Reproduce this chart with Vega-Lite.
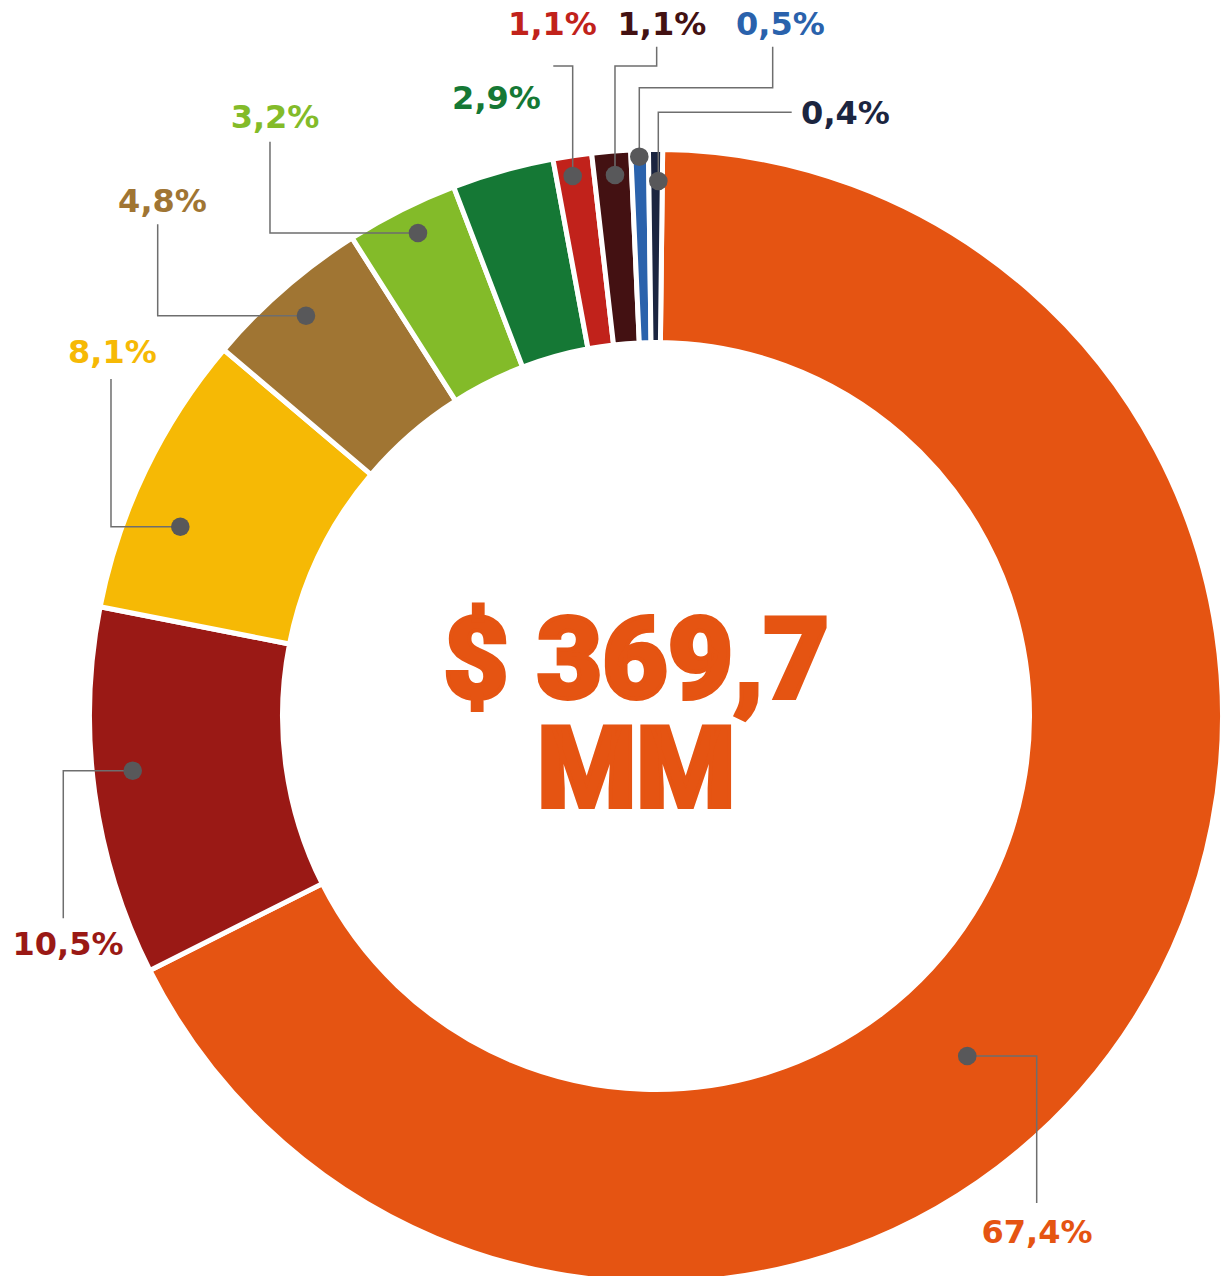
{
  "$schema": "https://vega.github.io/schema/vega-lite/v6.json",
  "width": 1228,
  "height": 1276,
  "autosize": {"type": "none"},
  "padding": 0,
  "background": "white",
  "config": {"view": {"stroke": null}},
  "datasets": {
    "shares": [
      {"segment": 1, "share": 67.4, "label": "67,4%", "labelU": 67.55, "labelV": -93.44, "dotU": 55.19, "dotV": -60.28},
      {"segment": 2, "share": 10.5, "label": "10,5%", "labelU": -104.26, "labelV": -42.38, "dotU": -92.78, "dotV": -9.70},
      {"segment": 3, "share": 8.1, "label": "8,1%", "labelU": -96.37, "labelV": 62.59, "dotU": -84.34, "dotV": 33.56},
      {"segment": 4, "share": 4.8, "label": "4,8%", "labelU": -87.50, "labelV": 89.36, "dotU": -62.06, "dotV": 70.97},
      {"segment": 5, "share": 3.2, "label": "3,2%", "labelU": -67.55, "labelV": 104.26, "dotU": -42.20, "dotV": 85.64},
      {"segment": 6, "share": 2.9, "label": "2,9%", "labelU": -28.28, "labelV": 107.62, "dotU": null, "dotV": null},
      {"segment": 7, "share": 1.1, "label": "1,1%", "labelU": -18.35, "labelV": 120.74, "dotU": -14.77, "dotV": 95.74},
      {"segment": 8, "share": 1.1, "label": "1,1%", "labelU": 1.06, "labelV": 120.74, "dotU": -7.27, "dotV": 95.92},
      {"segment": 9, "share": 0.5, "label": "0,5%", "labelU": 22.07, "labelV": 120.74, "dotU": -2.96, "dotV": 99.17},
      {"segment": 10, "share": 0.4, "label": "0,4%", "labelU": 33.60, "labelV": 104.96, "dotU": 0.41, "dotV": 94.86}
    ],
    "leaders": [
      {"segment": 1, "step": 1, "u": 55.19, "v": -60.28},
      {"segment": 1, "step": 2, "u": 67.50, "v": -60.28},
      {"segment": 1, "step": 3, "u": 67.50, "v": -86.35},
      {"segment": 2, "step": 1, "u": -92.78, "v": -9.70},
      {"segment": 2, "step": 2, "u": -105.09, "v": -9.70},
      {"segment": 2, "step": 3, "u": -105.09, "v": -35.87},
      {"segment": 3, "step": 1, "u": -84.34, "v": 33.56},
      {"segment": 3, "step": 2, "u": -96.63, "v": 33.56},
      {"segment": 3, "step": 3, "u": -96.63, "v": 59.75},
      {"segment": 4, "step": 1, "u": -62.06, "v": 70.97},
      {"segment": 4, "step": 2, "u": -88.35, "v": 70.97},
      {"segment": 4, "step": 3, "u": -88.35, "v": 87.18},
      {"segment": 5, "step": 1, "u": -42.20, "v": 85.64},
      {"segment": 5, "step": 2, "u": -68.44, "v": 85.64},
      {"segment": 5, "step": 3, "u": -68.44, "v": 101.82},
      {"segment": 7, "step": 1, "u": -14.77, "v": 95.74},
      {"segment": 7, "step": 2, "u": -14.77, "v": 115.25},
      {"segment": 7, "step": 3, "u": -18.21, "v": 115.25},
      {"segment": 8, "step": 1, "u": -7.27, "v": 95.92},
      {"segment": 8, "step": 2, "u": -7.27, "v": 115.25},
      {"segment": 8, "step": 3, "u": 0.12, "v": 115.25},
      {"segment": 8, "step": 4, "u": 0.12, "v": 118.67},
      {"segment": 9, "step": 1, "u": -2.96, "v": 99.17},
      {"segment": 9, "step": 2, "u": -2.96, "v": 111.40},
      {"segment": 9, "step": 3, "u": 20.69, "v": 111.40},
      {"segment": 9, "step": 4, "u": 20.69, "v": 118.67},
      {"segment": 10, "step": 1, "u": 0.41, "v": 94.86},
      {"segment": 10, "step": 2, "u": 0.41, "v": 107.04},
      {"segment": 10, "step": 3, "u": 24.06, "v": 107.04}
    ],
    "total": [
      {"line": "$ 369,7\nMM", "u": -3.5, "v": 3.19}
    ]
  },
  "layer": [
    {
      "data": {"name": "shares"},
      "mark": {"type": "arc", "radius": 566.5, "radius2": 373.5, "stroke": "white", "strokeWidth": 5},
      "encoding": {
        "theta": {"field": "share", "type": "quantitative", "stack": true, "scale": {"range": [0.0118, 6.2950]}},
        "order": {"field": "segment", "type": "quantitative"},
        "color": {"field": "segment", "type": "nominal", "legend": null,
          "scale": {"domain": [1, 2, 3, 4, 5, 6, 7, 8, 9, 10], "range": ["#E55412", "#9A1915", "#F6B905", "#A07533", "#83BB29", "#157835", "#C1221B", "#431112", "#2A62AC", "#1B2540"]}},
        "x": {"datum": 0, "type": "quantitative", "axis": null, "scale": {"domain": [-116.31, 101.42], "nice": false, "zero": false}},
        "y": {"datum": 0, "type": "quantitative", "axis": null, "scale": {"domain": [-99.29, 126.95], "nice": false, "zero": false}}
      }
    },
    {
      "data": {"name": "leaders"},
      "mark": {"type": "line", "color": "#6e6e6e", "strokeWidth": 1.5},
      "encoding": {
        "x": {"field": "u", "type": "quantitative", "axis": null, "scale": {"domain": [-116.31, 101.42], "nice": false, "zero": false}},
        "y": {"field": "v", "type": "quantitative", "axis": null, "scale": {"domain": [-99.29, 126.95], "nice": false, "zero": false}},
        "detail": {"field": "segment", "type": "nominal"},
        "order": {"field": "step", "type": "quantitative"}
      }
    },
    {
      "data": {"name": "shares"},
      "transform": [{"filter": "isValid(datum.dotU)"}],
      "mark": {"type": "circle", "size": 346, "color": "#58585a", "opacity": 1},
      "encoding": {
        "x": {"field": "dotU", "type": "quantitative", "axis": null, "scale": {"domain": [-116.31, 101.42], "nice": false, "zero": false}},
        "y": {"field": "dotV", "type": "quantitative", "axis": null, "scale": {"domain": [-99.29, 126.95], "nice": false, "zero": false}}
      }
    },
    {
      "data": {"name": "shares"},
      "mark": {"type": "text", "font": "DejaVu Sans", "fontWeight": "bold", "fontSize": 32, "align": "center", "baseline": "alphabetic"},
      "encoding": {
        "x": {"field": "labelU", "type": "quantitative", "axis": null, "scale": {"domain": [-116.31, 101.42], "nice": false, "zero": false}},
        "y": {"field": "labelV", "type": "quantitative", "axis": null, "scale": {"domain": [-99.29, 126.95], "nice": false, "zero": false}},
        "text": {"field": "label", "type": "nominal"},
        "color": {"field": "segment", "type": "nominal", "legend": null,
          "scale": {"domain": [1, 2, 3, 4, 5, 6, 7, 8, 9, 10], "range": ["#E55412", "#9A1915", "#F6B905", "#A07533", "#83BB29", "#157835", "#C1221B", "#431112", "#2A62AC", "#1B2540"]}}
      }
    },
    {
      "data": {"name": "total"},
      "mark": {"type": "text", "font": "Roboto", "fontWeight": 900, "fontSize": 113, "lineHeight": 109, "lineBreak": "\n", "align": "center", "baseline": "alphabetic", "color": "#E55412", "stroke": "#E55412", "strokeWidth": 4, "strokeJoin": "miter"},
      "encoding": {
        "x": {"field": "u", "type": "quantitative", "axis": null, "scale": {"domain": [-116.31, 101.42], "nice": false, "zero": false}},
        "y": {"field": "v", "type": "quantitative", "axis": null, "scale": {"domain": [-99.29, 126.95], "nice": false, "zero": false}},
        "text": {"field": "line", "type": "nominal"}
      }
    }
  ]
}
